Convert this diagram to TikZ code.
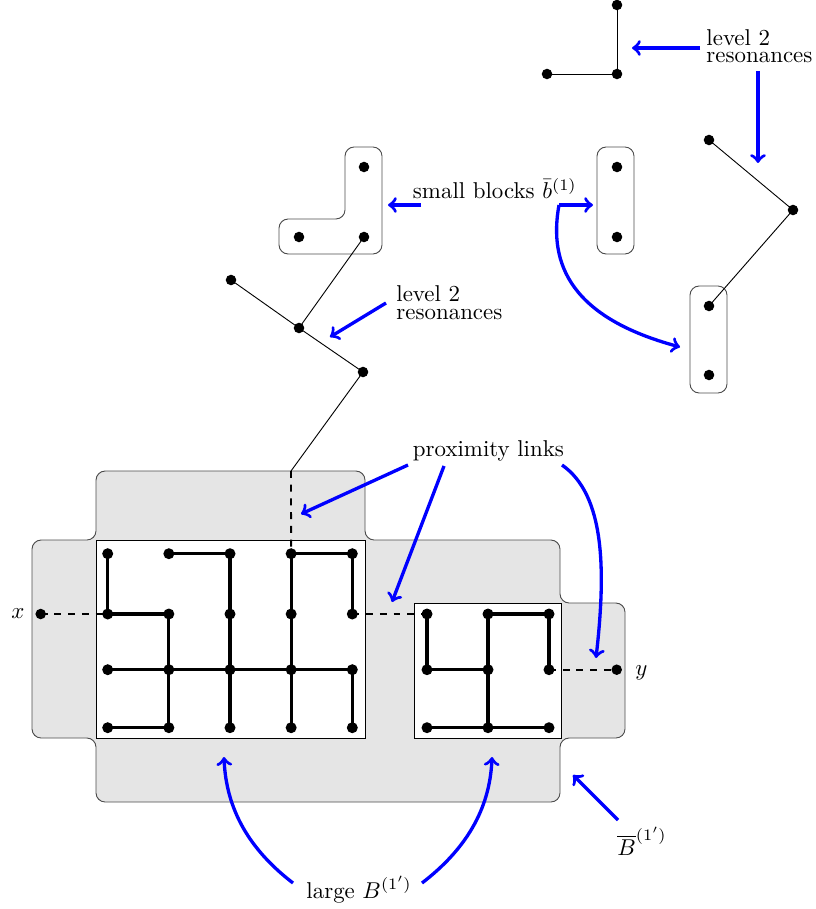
\documentclass[tikz,border=0pt]{standalone}
\usepackage{amsmath,amssymb}
\usepackage{tikz}
\colorlet{notecol}{blue}
\colorlet{shadecol}{black!10}
\colorlet{rimcol}{black!70}

\begin{document}
\begin{tikzpicture}[x=0.4367pt,y=-0.4367pt,
    bond/.style={line width=1.35pt},
    link/.style={dashed,thick},
    note/.style={->,notecol,line width=1.45pt},
    rim/.style={rimcol,rounded corners=4pt},
    lbl/.style={inner sep=0pt,anchor=base west}]
  \useasboundingbox (0,0) rectangle (815,909);

  % the region Bbar and the two large blocks
  \filldraw[rim,fill=shadecol]
    (96,471) -- (365,471) -- (365,540) -- (560,540) -- (560,603)
    -- (625,603) -- (625,738) -- (560,738) -- (560,802) -- (96,802)
    -- (96,738) -- (32,738) -- (32,540) -- (96,540) -- cycle;
  \filldraw[fill=white] (96,540) rectangle (365,738);
  \filldraw[fill=white] (414,603) rectangle (561,738);

  \foreach \i/\cx in {0/107.7,1/168.85,2/230,3/291.15,4/352.3}
    \foreach \j/\cy in {0/553.7,1/614,2/669.7,3/727.7}
      \coordinate (L\i\j) at (\cx,\cy);
  \foreach \i/\cx in {0/427,1/488,2/549}
    \foreach \j/\cy in {0/614,1/669.7,2/727.7}
      \coordinate (R\i\j) at (\cx,\cy);

  \draw[bond] (L00) -- (L01) -- (L11) -- (L13) -- (L03);
  \draw[bond] (L10) -- (L20) -- (L23);
  \draw[bond] (L33) -- (L30) -- (L40) -- (L41);
  \draw[bond] (L02) -- (L42) -- (L43);
  \draw[bond] (R00) -- (R01) -- (R11);
  \draw[bond] (R12) -- (R10) -- (R20) -- (R21);
  \draw[bond] (R02) -- (R22);

  % small blocks and level 2 resonances
  \coordinate (lb1) at (364,167);
  \coordinate (lb2) at (299,237);
  \coordinate (lb3) at (364,237);
  \coordinate (t1) at (231,280);
  \coordinate (t2) at (299,328);
  \coordinate (t3) at (363,372);
  \coordinate (t4) at (291,471);
  \coordinate (s1) at (617,167);
  \coordinate (s2) at (617,237);
  \coordinate (u1) at (617,5);
  \coordinate (u2) at (617,74);
  \coordinate (u3) at (547,74);
  \coordinate (v1) at (709,140);
  \coordinate (v2) at (793,210);
  \coordinate (v3) at (709,306);
  \coordinate (v4) at (709,375);
  \coordinate (px) at (40.7,614);
  \coordinate (py) at (616.7,669.7);

  \draw[rim] (345,147) -- (382,147) -- (382,254) -- (279,254)
    -- (279,219) -- (345,219) -- cycle;
  \draw[rim] (597,147) rectangle (634,254);
  \draw[rim] (690,286) rectangle (727,393);

  \draw (lb3) -- (t2);
  \draw (t1) -- (t2) -- (t3) -- (t4);
  \draw (u1) -- (u2) -- (u3);
  \draw (v1) -- (v2) -- (v3);

  \draw[link] (t4) -- (L30);
  \draw[link] (px) -- (L01);
  \draw[link] (L41) -- (R00);
  \draw[link] (R21) -- (py);

  \foreach \i in {0,...,4}
    \foreach \j in {0,...,3}
      \fill (L\i\j) circle (2.4pt);
  \foreach \i in {0,1,2}
    \foreach \j in {0,1,2}
      \fill (R\i\j) circle (2.4pt);
  \foreach \p in {lb1,lb2,lb3,t1,t2,t3,s1,s2,u1,u2,u3,v1,v2,v3,v4,px,py}
    \fill (\p) circle (2.3pt);

  % labels
  \node[lbl] (xlab) at (11,618) {$x$};
  \node[lbl] (ylab) at (635,675) {$y$};
  \node[lbl] (prox) at (412.5,456) {proximity links};
  \node[lbl] (sblk) at (412.5,199) {small blocks $\bar{b}^{(1)}$};
  \node[lbl] (lvl) at (396,319) {\shortstack[l]{level 2\\resonances}};
  \node[lbl] (lvr) at (706,63) {\shortstack[l]{level 2\\resonances}};
  \node[lbl] (large) at (306,898) {large $B^{(1')}$};
  \node[lbl] (Bbar) at (617,855) {$\overline{B}^{(1')}$};

  % pointers
  \coordinate (lvlA) at (386,303);
  \coordinate (lvlT) at (330,337);
  \coordinate (sbL) at (421,205);
  \coordinate (sbLT) at (388,205);
  \coordinate (sbR) at (559,205);
  \coordinate (sbRT) at (593,205);
  \coordinate (sbCT) at (680,347);
  \coordinate (lvrA) at (700,48);
  \coordinate (lvrT) at (632,48);
  \coordinate (lvrB) at (758,71);
  \coordinate (lvrD) at (758,163);
  \coordinate (pxA) at (408,465);
  \coordinate (pxAT) at (301,514);
  \coordinate (pxB) at (444,466);
  \coordinate (pxBT) at (392,602);
  \coordinate (pxC) at (562,465);
  \coordinate (pxCT) at (596,658);
  \coordinate (lgA) at (293,883);
  \coordinate (lgAT) at (224,757);
  \coordinate (lgB) at (422,883);
  \coordinate (lgBT) at (492,757);
  \coordinate (bbA) at (618,820);
  \coordinate (bbT) at (573,775);

  \draw[note] (lvlA) -- (lvlT);
  \draw[note] (sbL) -- (sbLT);
  \draw[note] (sbR) -- (sbRT);
  \draw[note] (sbR) .. controls (548,265) and (572,318) .. (sbCT);
  \draw[note] (lvrA) -- (lvrT);
  \draw[note] (lvrB) -- (lvrD);
  \draw[note] (pxA) -- (pxAT);
  \draw[note] (pxB) -- (pxBT);
  \draw[note] (pxC) .. controls (605,495) and (606,570) .. (pxCT);
  \draw[note] (lgA) .. controls (250,850) and (226,810) .. (lgAT);
  \draw[note] (lgB) .. controls (465,850) and (490,810) .. (lgBT);
  \draw[note] (bbA) -- (bbT);
\end{tikzpicture}
\end{document}
